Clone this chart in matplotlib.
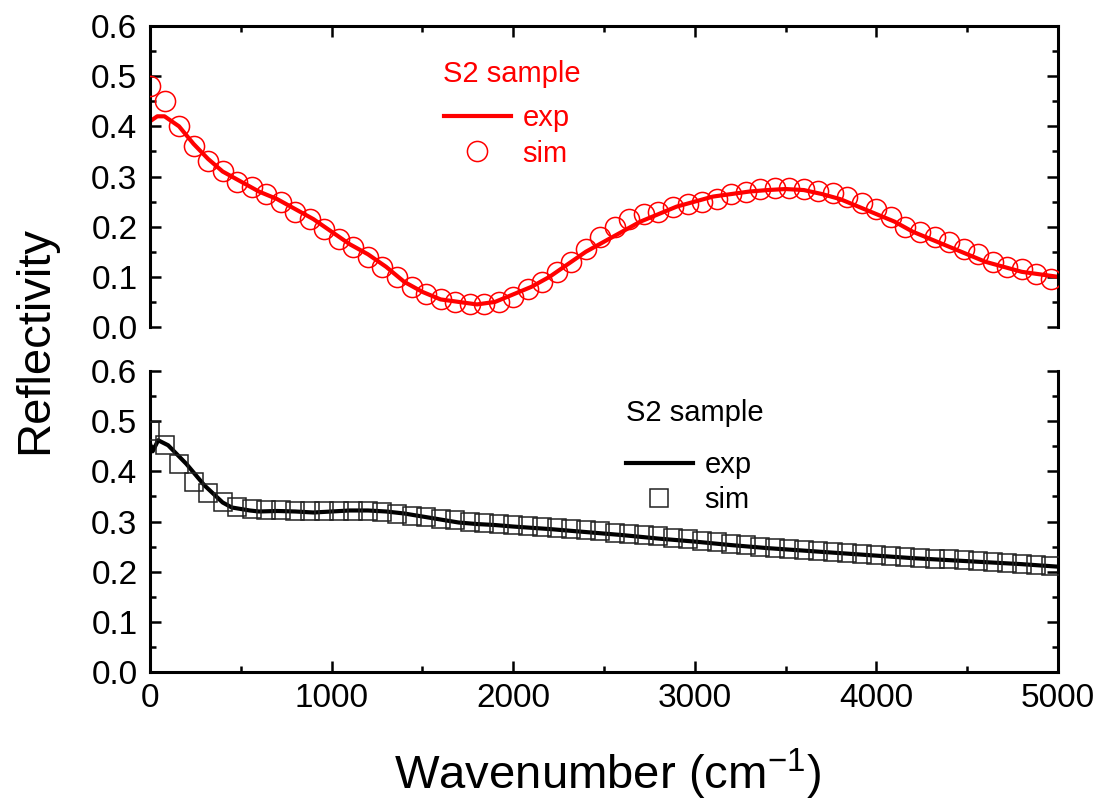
import matplotlib
matplotlib.use('Agg')
import matplotlib.pyplot as plt
from matplotlib.ticker import MultipleLocator
from matplotlib.lines import Line2D

plt.rcParams['font.family'] = ['Liberation Sans', 'DejaVu Sans']
plt.rcParams['mathtext.fontset'] = 'custom'
plt.rcParams['mathtext.rm'] = 'Liberation Sans'
plt.rcParams['mathtext.default'] = 'regular'

# top panel (red) - measured curve
top_exp_x = [0, 40, 80, 160, 240, 320, 400, 500, 600, 700, 800, 900, 1000, 1100, 1200, 1300,
             1400, 1500, 1600, 1700, 1800, 1900, 2000, 2100, 2200, 2300, 2400, 2500, 2600,
             2700, 2800, 2900, 3000, 3100, 3200, 3300, 3400, 3500, 3600, 3700, 3800, 3900,
             4000, 4100, 4200, 4300, 4400, 4500, 4600, 4700, 4800, 4900, 5000]
top_exp_y = [0.41, 0.42, 0.42, 0.40, 0.365, 0.335, 0.31, 0.29, 0.27, 0.255, 0.235, 0.215, 0.19,
             0.165, 0.145, 0.12, 0.09, 0.07, 0.055, 0.05, 0.045, 0.05, 0.065, 0.08, 0.10, 0.125,
             0.15, 0.17, 0.19, 0.21, 0.225, 0.24, 0.25, 0.26, 0.265, 0.27, 0.273, 0.275, 0.273,
             0.265, 0.255, 0.24, 0.225, 0.21, 0.19, 0.175, 0.16, 0.145, 0.13, 0.12, 0.11, 0.105, 0.10]

# simulated points (shared x grid for both panels)
sim_x = [0, 80, 160, 240, 320, 400, 480, 560, 640, 720, 800, 880, 960, 1040, 1120, 1200,
         1280, 1360, 1440, 1520, 1600, 1680, 1760, 1840, 1920, 2000, 2080, 2160, 2240, 2320,
         2400, 2480, 2560, 2640, 2720, 2800, 2880, 2960, 3040, 3120, 3200, 3280, 3360, 3440,
         3520, 3600, 3680, 3760, 3840, 3920, 4000, 4080, 4160, 4240, 4320, 4400, 4480, 4560,
         4640, 4720, 4800, 4880, 4960]
top_sim_y = [0.48, 0.45, 0.40, 0.36, 0.33, 0.31, 0.29, 0.28, 0.265, 0.25, 0.23, 0.215, 0.195,
             0.175, 0.16, 0.14, 0.12, 0.10, 0.08, 0.065, 0.055, 0.05, 0.045, 0.045, 0.05, 0.06,
             0.075, 0.09, 0.11, 0.13, 0.155, 0.18, 0.20, 0.215, 0.225, 0.23, 0.24, 0.245, 0.25,
             0.255, 0.265, 0.27, 0.275, 0.278, 0.277, 0.276, 0.272, 0.267, 0.26, 0.247, 0.235,
             0.22, 0.20, 0.19, 0.18, 0.17, 0.155, 0.145, 0.13, 0.12, 0.115, 0.105, 0.095]

# bottom panel (black)
bot_exp_x = [0, 15, 45, 100, 200, 300, 400, 450, 500, 550, 600, 700, 800, 900, 1000, 1100,
             1200, 1300, 1400, 1500, 1600, 1700, 1800, 1900, 2000, 2200, 2400, 2600, 2800,
             3000, 3200, 3400, 3600, 3800, 4000, 4200, 4400, 4600, 4800, 5000]
bot_exp_y = [0.455, 0.44, 0.462, 0.452, 0.415, 0.372, 0.338, 0.328, 0.325, 0.322, 0.32, 0.321,
             0.32, 0.318, 0.32, 0.322, 0.322, 0.32, 0.316, 0.31, 0.304, 0.298, 0.295, 0.293,
             0.29, 0.285, 0.279, 0.273, 0.266, 0.26, 0.253, 0.247, 0.242, 0.237, 0.232, 0.227,
             0.223, 0.219, 0.215, 0.21]
bot_sim_y = [0.48, 0.452, 0.414, 0.379, 0.356, 0.339, 0.329, 0.325, 0.323, 0.322, 0.321, 0.32,
             0.32, 0.32, 0.32, 0.32, 0.318, 0.315, 0.312, 0.309, 0.306, 0.303, 0.30, 0.298,
             0.296, 0.294, 0.292, 0.29, 0.288, 0.285, 0.283, 0.281, 0.278, 0.276, 0.273, 0.271,
             0.268, 0.265, 0.262, 0.259, 0.256, 0.253, 0.25, 0.248, 0.246, 0.244, 0.242, 0.24,
             0.238, 0.236, 0.234, 0.232, 0.23, 0.228, 0.226, 0.225, 0.223, 0.221, 0.22, 0.218,
             0.216, 0.214, 0.212]

x_ticks = [0, 1000, 2000, 3000, 4000, 5000]
y_ticks = [0.0, 0.1, 0.2, 0.3, 0.4, 0.5, 0.6]

red = '#ff0000'
tick_fs = 24
leg_fs = 21

fig = plt.figure(figsize=(11.02, 8.08), dpi=100)
ax1 = fig.add_axes([0.1361, 0.5953, 0.824, 0.3725])
ax2 = fig.add_axes([0.1361, 0.1683, 0.824, 0.3725])

ax1.plot(top_exp_x, top_exp_y, color=red, lw=3, zorder=2)
ax1.plot(sim_x, top_sim_y, ls='none', marker='o', ms=14.5, mfc='none', mec=red, mew=1.1, zorder=3)

ax2.plot(bot_exp_x, bot_exp_y, color='black', lw=3, zorder=2)
ax2.plot(sim_x, bot_sim_y, ls='none', marker='s', ms=13, mfc='none', mec='#222222', mew=1.1, zorder=3)

for ax in (ax1, ax2):
    ax.set_xlim(0, 5000)
    ax.set_ylim(0, 0.6)
    ax.set_xticks(x_ticks)
    ax.set_yticks(y_ticks)
    ax.set_yticklabels(['%.1f' % v for v in y_ticks])
    ax.xaxis.set_minor_locator(MultipleLocator(500))
    ax.yaxis.set_minor_locator(MultipleLocator(0.05))
    for sp in ax.spines.values():
        sp.set_linewidth(2.2)
    ax.tick_params(which='major', direction='in', length=8, width=1.8, labelsize=tick_fs)
    ax.tick_params(which='minor', direction='in', length=4, width=1.8)
    ax.tick_params(axis='y', which='both', left=True, right=True, pad=9)

ax1.spines['bottom'].set_visible(False)
ax2.spines['top'].set_visible(False)
ax1.tick_params(axis='x', which='both', top=True, bottom=False, labelbottom=False, labeltop=False)
ax2.tick_params(axis='x', which='both', top=False, bottom=True, labelbottom=True, pad=8)

# legends
h1 = [Line2D([], [], color=red, lw=3),
      Line2D([], [], ls='none', marker='o', ms=14.5, mfc='none', mec=red, mew=1.1)]
leg1 = ax1.legend(h1, ['exp', 'sim'], loc='center', bbox_to_anchor=(0.393, 0.635),
                  frameon=False, fontsize=leg_fs, handlelength=2.3, handletextpad=0.4,
                  labelspacing=0.25, borderpad=0)
for t in leg1.get_texts():
    t.set_color(red)
ax1.text(0.399, 0.84, 'S2 sample', transform=ax1.transAxes, color=red, fontsize=leg_fs,
         ha='center', va='center')

h2 = [Line2D([], [], color='black', lw=3),
      Line2D([], [], ls='none', marker='s', ms=13, mfc='none', mec='#222222', mew=1.1)]
ax2.legend(h2, ['exp', 'sim'], loc='center', bbox_to_anchor=(0.593, 0.63),
           frameon=False, fontsize=leg_fs, handlelength=2.3, handletextpad=0.4,
           labelspacing=0.25, borderpad=0)
ax2.text(0.6, 0.862, 'S2 sample', transform=ax2.transAxes, color='black', fontsize=leg_fs,
         ha='center', va='center')

fig.text(0.032, 0.579, 'Reflectivity', rotation=90, fontsize=34, ha='center', va='center')
fig.text(0.551, 0.0235, 'Wavenumber (cm$^{-1}$)', fontsize=34, ha='center', va='baseline')

fig.savefig('out.png', dpi=100)
